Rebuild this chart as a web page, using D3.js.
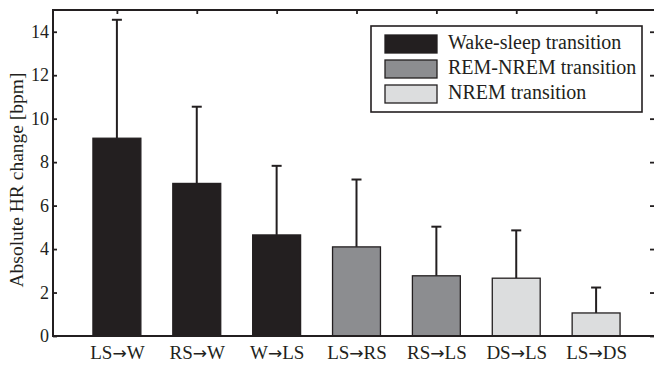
<!DOCTYPE html>
<html>
<head>
<meta charset="utf-8">
<script src="https://cdn.jsdelivr.net/npm/d3@7"></script>
<style>
  body { margin: 0; background: #fff; }
  text { font-family: "Liberation Serif", "Times New Roman", serif; fill: #231f20; }
</style>
</head>
<body>
<div id="chart"></div>
<script>
(function () {
  'use strict';

  // data
  var categories = ['LS\u2192W', 'RS\u2192W', 'W\u2192LS', 'LS\u2192RS', 'RS\u2192LS', 'DS\u2192LS', 'LS\u2192DS'];
  var means = [9.1, 7.02, 4.65, 4.1, 2.77, 2.66, 1.06];
  var errTops = [14.55, 10.55, 7.83, 7.2, 5.03, 4.86, 2.23];
  var groups = ['wake', 'wake', 'wake', 'remnrem', 'remnrem', 'nrem', 'nrem'];
  var legendLabels = ['Wake-sleep transition', 'REM-NREM transition', 'NREM transition'];
  var legendKeys = ['wake', 'remnrem', 'nrem'];
  var yTicks = [0, 2, 4, 6, 8, 10, 12, 14];

  var W = 654, H = 365;
  var m = { left: 53, top: 10, bottom: 336, right: 660 };
  var ink = '#231f20';

  var color = d3.scaleOrdinal()
    .domain(legendKeys)
    .range(['#231f20', '#8c8d90', '#dcddde']);

  var svg = d3.select('#chart').append('svg').attr('width', W).attr('height', H);

  var x = d3.scaleLinear().domain([0.2, 7.8]).range([m.left, m.right]);
  var y = d3.scaleLinear().domain([0, 15]).range([m.bottom, m.top]);
  var barW = x(0.8) - x(0.2);

  // error bars (upper only)
  var eb = svg.append('g').attr('stroke', ink).attr('stroke-width', 2);
  categories.forEach(function (c, i) {
    var cx = x(i + 1);
    eb.append('line').attr('x1', cx).attr('x2', cx).attr('y1', y(means[i])).attr('y2', y(errTops[i]));
    eb.append('line').attr('x1', cx - 5).attr('x2', cx + 5).attr('y1', y(errTops[i])).attr('y2', y(errTops[i]));
  });

  // bars
  svg.append('g').selectAll('rect')
    .data(means)
    .enter().append('rect')
    .attr('x', function (d, i) { return x(i + 1) - barW / 2; })
    .attr('y', function (d) { return y(d); })
    .attr('width', barW)
    .attr('height', function (d) { return y(0) - y(d); })
    .attr('fill', function (d, i) { return color(groups[i]); })
    .attr('stroke', ink)
    .attr('stroke-width', 1.3);

  // box
  svg.append('rect')
    .attr('x', m.left).attr('y', m.top)
    .attr('width', m.right - m.left).attr('height', m.bottom - m.top)
    .attr('fill', 'none').attr('stroke', ink).attr('stroke-width', 2);

  // y axis, inward ticks on both sides
  var yl = d3.axisLeft(y).tickValues(yTicks).tickSizeInner(-4).tickSizeOuter(0).tickPadding(4);
  var gy = svg.append('g').attr('transform', 'translate(' + m.left + ',0)').call(yl);
  gy.select('.domain').remove();
  gy.selectAll('line').attr('stroke', ink).attr('stroke-width', 1.8);
  gy.selectAll('text').style('font-size', '18px').style('font-family', '"Liberation Serif", serif').attr('fill', ink);

  var yr = d3.axisRight(y).tickValues(yTicks).tickSizeInner(-4).tickSizeOuter(0).tickFormat('');
  var gyr = svg.append('g').attr('transform', 'translate(' + (m.right - 6) + ',0)').call(yr);
  gyr.select('.domain').remove();
  gyr.selectAll('line').attr('stroke', ink).attr('stroke-width', 1.8);

  // x axis labels and top ticks
  var xb = d3.axisBottom(x).tickValues(d3.range(1, 8)).tickSize(0).tickPadding(10)
    .tickFormat(function (d) { return categories[d - 1]; });
  var gx = svg.append('g').attr('transform', 'translate(0,' + m.bottom + ')').call(xb);
  gx.select('.domain').remove();
  gx.selectAll('text')
    .style('font-size', '19px').style('font-family', '"Liberation Serif", serif').attr('fill', ink)
    .each(function () {
      // put the arrow in a font that has a proper solid arrow
      var t = d3.select(this), parts = t.text().split('\u2192');
      t.text(null);
      t.append('tspan').text(parts[0]);
      t.append('tspan').style('font-family', '"DejaVu Sans", sans-serif').style('font-size', '17px').text('\u2192');
      t.append('tspan').text(parts[1]);
    });

  var xt = d3.axisTop(x).tickValues(d3.range(1, 8)).tickSizeInner(-4).tickSizeOuter(0).tickFormat('');
  var gxt = svg.append('g').attr('transform', 'translate(0,' + m.top + ')').call(xt);
  gxt.select('.domain').remove();
  gxt.selectAll('line').attr('stroke', ink).attr('stroke-width', 1.8);

  // y label
  svg.append('text')
    .attr('transform', 'translate(23,180) rotate(-90)')
    .attr('text-anchor', 'middle')
    .style('font-size', '19.5px')
    .text('Absolute HR change [bpm]');

  // legend
  var lg = svg.append('g').attr('transform', 'translate(371,26)');
  lg.append('rect').attr('width', 271).attr('height', 86)
    .attr('fill', '#fff').attr('stroke', ink).attr('stroke-width', 1.6);
  legendKeys.forEach(function (k, i) {
    lg.append('rect').attr('x', 14).attr('y', 9 + i * 25).attr('width', 52).attr('height', 18)
      .attr('fill', color(k)).attr('stroke', ink).attr('stroke-width', 1.3);
    lg.append('text').attr('x', 77).attr('y', 23 + i * 25)
      .style('font-size', '20px').text(legendLabels[i]);
  });
})();
</script>
</body>
</html>
